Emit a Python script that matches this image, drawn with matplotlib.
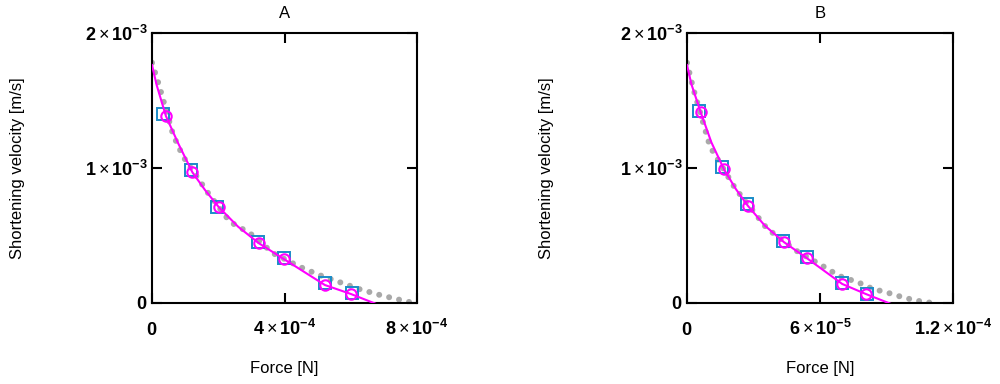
import numpy as np
import matplotlib.pyplot as plt

plt.rcParams['font.family'] = ['Liberation Sans', 'DejaVu Sans']
plt.rcParams['mathtext.fontset'] = 'custom'
plt.rcParams['mathtext.rm'] = 'Liberation Sans'
plt.rcParams['mathtext.bf'] = 'Liberation Sans:bold'
plt.rcParams['mathtext.it'] = 'Liberation Sans:italic'

# ---- panel A data (force in N, velocity in m/s)
a_sq_force = [3.4e-5, 1.17e-4, 1.97e-4, 3.21e-4, 3.97e-4, 5.22e-4, 6.03e-4]
a_sq_vel = [1.40e-3, 0.985e-3, 0.713e-3, 0.454e-3, 0.331e-3, 0.146e-3, 0.072e-3]
a_ci_force = [4.2e-5, 1.22e-4, 2.02e-4, 3.23e-4, 3.99e-4, 5.22e-4, 6.0e-4]
a_ci_vel = [1.385e-3, 0.968e-3, 0.709e-3, 0.442e-3, 0.324e-3, 0.133e-3, 0.067e-3]
a_fit_force = [0, 1.4e-5, 4.2e-5, 7.9e-5, 1.22e-4, 1.6e-4, 2.02e-4, 2.6e-4,
               3.23e-4, 3.99e-4, 5.22e-4, 6.0e-4, 6.9e-4]
a_fit_vel = [1.763e-3, 1.615e-3, 1.385e-3, 1.183e-3, 0.968e-3, 0.837e-3, 0.709e-3,
             0.565e-3, 0.442e-3, 0.324e-3, 0.133e-3, 0.067e-3, -0.02e-3]
a_hill_force = [0, 2.1e-5, 6.4e-5, 9.4e-5, 1.70e-4, 2.35e-4, 2.96e-4, 3.66e-4,
                4.45e-4, 5.05e-4, 5.68e-4, 6.28e-4, 6.91e-4, 7.59e-4, 7.9e-4]
a_hill_vel = [1.78e-3, 1.615e-3, 1.244e-3, 1.084e-3, 0.812e-3, 0.602e-3, 0.516e-3,
              0.368e-3, 0.269e-3, 0.207e-3, 0.153e-3, 0.101e-3, 0.057e-3, 0.017e-3, 0.0]

# ---- panel B data
b_sq_force = [5.4e-6, 1.59e-5, 2.69e-5, 4.35e-5, 5.4e-5, 7.0e-5, 8.1e-5]
b_sq_vel = [1.424e-3, 1.01e-3, 0.733e-3, 0.462e-3, 0.338e-3, 0.146e-3, 0.067e-3]
b_ci_force = [6.2e-6, 1.67e-5, 2.74e-5, 4.38e-5, 5.4e-5, 7.0e-5, 8.06e-5]
b_ci_vel = [1.412e-3, 0.99e-3, 0.721e-3, 0.45e-3, 0.333e-3, 0.141e-3, 0.067e-3]
b_fit_force = [0, 2.0e-6, 6.2e-6, 1.1e-5, 1.67e-5, 2.2e-5, 2.74e-5, 3.5e-5,
               4.38e-5, 5.4e-5, 7.0e-5, 8.06e-5, 9.4e-5]
b_fit_vel = [1.763e-3, 1.62e-3, 1.412e-3, 1.19e-3, 0.99e-3, 0.845e-3, 0.721e-3,
             0.575e-3, 0.45e-3, 0.333e-3, 0.141e-3, 0.067e-3, -0.02e-3]
b_hill_force = [0, 2.8e-6, 1.04e-5, 2.17e-5, 3.6e-5, 4.87e-5, 6.1e-5, 6.87e-5,
                7.76e-5, 8.26e-5, 8.78e-5, 9.25e-5, 9.73e-5, 1.024e-4, 1.077e-4, 1.123e-4]
b_hill_vel = [1.78e-3, 1.59e-3, 1.158e-3, 0.85e-3, 0.553e-3, 0.393e-3, 0.276e-3, 0.2e-3,
              0.15e-3, 0.113e-3, 0.087e-3, 0.067e-3, 0.042e-3, 0.022e-3, 0.005e-3, 0.0]

y_ticks = [0, 1e-3, 2e-3]
y_ticklabels = ['0', ('1', '-3'), ('2', '-3')]
a_xticks = [0, 4e-4, 8e-4]
a_xticklabels = ['0', ('4', '-4'), ('8', '-4')]
b_xticks = [0, 6e-5, 1.2e-4]
b_xticklabels = ['0', ('6', '-5'), ('1.2', '-4')]


def sci(lab):
    if isinstance(lab, str):
        return r'$\mathbf{%s}$' % lab
    m, e = lab
    return r'$\mathbf{%s}\times\mathbf{10}^{\mathbf{%s}}$' % (m, e)


fig = plt.figure(figsize=(10, 3.84), dpi=100)

panels = [
    ('A', [0.152, 0.211, 0.265, 0.703], a_hill_force, a_hill_vel, a_sq_force, a_sq_vel,
     a_fit_force, a_fit_vel, a_ci_force, a_ci_vel, a_xticks, a_xticklabels, -0.48),
    ('B', [0.687, 0.211, 0.266, 0.703], b_hill_force, b_hill_vel, b_sq_force, b_sq_vel,
     b_fit_force, b_fit_vel, b_ci_force, b_ci_vel, b_xticks, b_xticklabels, -0.50),
]

for (title, pos, hf, hv, sf, sv, ff, fv, cf, cv, xt, xtl, ylx) in panels:
    ax = fig.add_axes(pos)
    # gray dotted Hill curve
    ax.plot(hf, hv, color='#a9a9a9', lw=4.3, linestyle=(0, (0.01, 1.7)),
            dash_capstyle='round', zorder=1)
    ax.plot(sf, sv, linestyle='none', marker='s', ms=8.5, mfc='none',
            mec='#1a8cc8', mew=1.4, zorder=2)
    ax.plot(ff, fv, color='#ff00ff', lw=1.5, zorder=3)
    ax.plot(cf, cv, linestyle='none', marker='o', ms=7.5, mfc='none',
            mec='#ff00ff', mew=1.5, zorder=4)

    ax.set_xlim(xt[0], xt[-1])
    ax.set_ylim(y_ticks[0], y_ticks[-1])
    ax.set_xticks(xt, [sci(l) for l in xtl])
    ax.set_yticks(y_ticks, [sci(l) for l in y_ticklabels])
    ax.tick_params(direction='in', length=7, width=1.5, top=True, right=True,
                   labelsize=13)
    ax.tick_params(axis='x', pad=23)
    ax.tick_params(axis='y', pad=3)
    for t in ax.get_xticklabels():
        t.set_va('baseline')
    for s in ax.spines.values():
        s.set_linewidth(1.5)

    ax.set_title(title, fontsize=12, pad=11)
    ax.set_xlabel('Force [N]', fontsize=12)
    ax.xaxis.set_label_coords(0.5, -0.215)
    ax.set_ylabel('Shortening velocity [m/s]', fontsize=12)
    ax.yaxis.set_label_coords(ylx, 0.5)

fig.savefig('out.png', dpi=100)
